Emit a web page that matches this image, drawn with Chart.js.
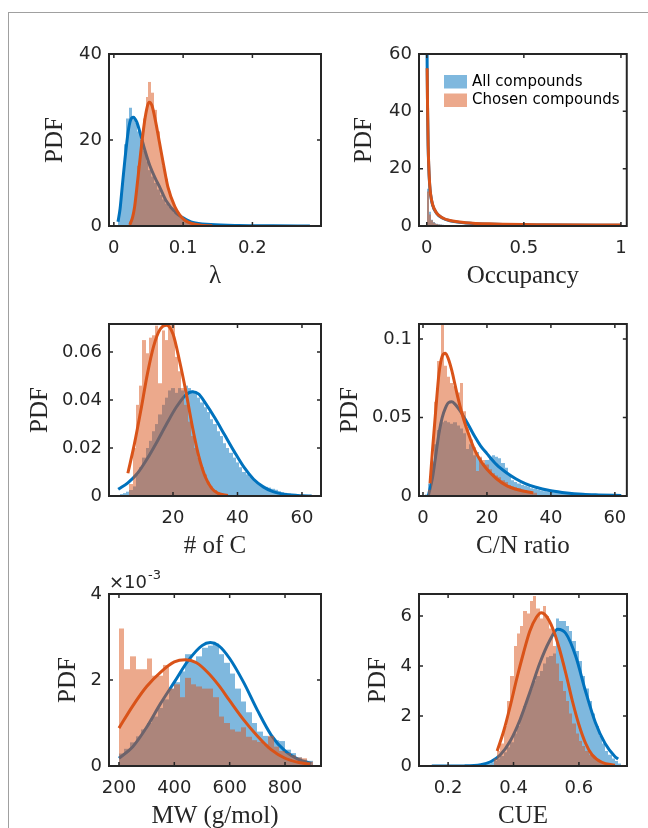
<!DOCTYPE html>
<html>
<head>
<meta charset="utf-8">
<script src="https://cdn.jsdelivr.net/npm/chart.js@4.4.1/dist/chart.umd.min.js"></script>
<style>
  html, body { margin: 0; padding: 0; background: #fff; }
  body { width: 648px; height: 828px; position: relative; overflow: hidden; }
  #frame { position: absolute; left: 8px; top: 12px; width: 700px; height: 900px;
           border-left: 1px solid #a0a0a0; border-top: 1px solid #a0a0a0; }
  canvas { position: absolute; }
</style>
</head>
<body>
<div id="frame"></div>
<canvas id="lamChart"></canvas>
<canvas id="occChart"></canvas>
<canvas id="carbonChart"></canvas>
<canvas id="cnChart"></canvas>
<canvas id="mwChart"></canvas>
<canvas id="cueChart"></canvas>
<script>
'use strict';

// ---- lambda ----
let lamXTicks = [0, 0.1, 0.2];
let lamYTicks = [0, 20, 40];
let lamAllBins = [0.008, 0.012, 0.016, 0.020, 0.024, 0.028, 0.032, 0.036, 0.040, 0.044, 0.048, 0.052, 0.056, 0.060, 0.064, 0.068, 0.072, 0.076, 0.080, 0.084, 0.088, 0.092, 0.096, 0.100, 0.104, 0.108, 0.112, 0.116, 0.120, 0.124, 0.128, 0.132, 0.136, 0.140, 0.144, 0.148];
let lamAllPdf = [3, 10, 19, 25, 27.5, 25.5, 24, 22, 20, 17.5, 15, 13, 11.5, 10, 8.5, 7.2, 6.2, 5.2, 4.4, 3.7, 3.1, 2.6, 2.1, 1.8, 1.5, 1.2, 1.0, 0.8, 0.7, 0.6, 0.5, 0.45, 0.4, 0.35, 0.3, 0.28];
let lamChosenBins = [0.024, 0.028, 0.032, 0.036, 0.040, 0.044, 0.048, 0.052, 0.056, 0.060, 0.064, 0.068, 0.072, 0.076, 0.080, 0.084, 0.088, 0.092, 0.096, 0.100, 0.104, 0.108, 0.112, 0.116, 0.120, 0.124, 0.128, 0.132, 0.136, 0.140];
let lamChosenPdf = [1, 3, 8, 14, 20, 25, 30, 33.5, 31, 27, 22, 18, 14, 11, 8, 6, 4.5, 3.5, 2.5, 1.8, 1.2, 0.9, 0.6, 0.5, 0.4, 0.3, 0.25, 0.2, 0.15, 0.1];
let lamAllFitX = [0.006, 0.009, 0.012, 0.016, 0.021, 0.024, 0.028, 0.033, 0.039, 0.045, 0.052, 0.060, 0.066, 0.075, 0.090, 0.100, 0.114, 0.140, 0.180, 0.230, 0.283];
let lamAllFitY = [1.0, 4.0, 9.0, 15.5, 22.3, 24.6, 25.3, 24.2, 21.0, 17.5, 14.0, 11.0, 9.1, 6.0, 3.0, 1.9, 0.8, 0.35, 0.12, 0.05, 0.02];
let lamChosenFitX = [0.023, 0.027, 0.030, 0.035, 0.042, 0.046, 0.051, 0.055, 0.060, 0.066, 0.072, 0.078, 0.088, 0.095, 0.102, 0.112, 0.125, 0.142];
let lamChosenFitY = [0.3, 2.0, 4.5, 11.5, 21.5, 26.0, 28.8, 28.0, 24.5, 19.3, 14.0, 9.1, 4.5, 2.6, 1.4, 0.6, 0.2, 0.05];

// ---- occupancy ----
let occXTicks = [0, 0.5, 1];
let occYTicks = [0, 20, 40, 60];
let occBins = [0.005, 0.015, 0.025, 0.035, 0.045, 0.055, 0.065, 0.075, 0.085, 0.095];
let occAllPdf = [13, 5, 2.2, 1.4, 1.0, 0.8, 0.6, 0.5, 0.4, 0.35];
let occChosenPdf = [12, 4, 2.0, 1.2, 0.9, 0.7, 0.5, 0.4, 0.35, 0.3];
let occAllFitX = [0.0005, 0.002, 0.004, 0.007, 0.010, 0.015, 0.020, 0.030, 0.050, 0.080, 0.120, 0.200, 0.350, 0.600, 1.000];
let occAllFitY = [70, 56, 41, 28, 21, 14.2, 10.8, 7.3, 4.5, 2.8, 1.8, 1.05, 0.6, 0.35, 0.25];
let occChosenFitX = [0.002, 0.004, 0.007, 0.010, 0.015, 0.020, 0.030, 0.050, 0.080, 0.120, 0.200, 0.350, 0.600, 1.000];
let occChosenFitY = [55, 42, 29, 21.5, 14.5, 11, 7.5, 4.6, 2.9, 1.9, 1.15, 0.7, 0.45, 0.35];

// ---- number of carbons ----
let carbonXTicks = [20, 40, 60];
let carbonYTicks = [0, 0.02, 0.04, 0.06];
let carbonAllBins = [4, 5, 6, 7, 8, 9, 10, 11, 12, 13, 14, 15, 16, 17, 18, 19, 20, 21, 22, 23, 24, 25, 26, 27, 28, 29, 30, 31, 32, 33, 34, 35, 36, 37, 38, 39, 40, 41, 42, 43, 44, 45, 46, 47, 48, 49, 50, 51, 52, 53, 54, 55, 56, 57, 58, 59, 60, 61, 62, 63];
let carbonAllPdf = [0.0008, 0.0012, 0.0018, 0.0025, 0.004, 0.009, 0.012, 0.016, 0.020, 0.023, 0.027, 0.030, 0.034, 0.038, 0.041, 0.044, 0.045, 0.043, 0.045, 0.044, 0.046, 0.045, 0.044, 0.043, 0.041, 0.039, 0.037, 0.035, 0.032, 0.030, 0.027, 0.025, 0.022, 0.020, 0.018, 0.016, 0.014, 0.012, 0.010, 0.009, 0.008, 0.0068, 0.0058, 0.0048, 0.0042, 0.0038, 0.0035, 0.003, 0.0026, 0.002, 0.0016, 0.0013, 0.001, 0.0008, 0.0007, 0.0006, 0.0005, 0.0004, 0.0003, 0.0002];
let carbonChosenBins = [7, 8, 9, 10, 11, 12, 13, 14, 15, 16, 17, 18, 19, 20, 21, 22, 23, 24, 25, 26, 27, 28, 29, 30, 31, 32, 33, 34, 35, 36];
let carbonChosenPdf = [0.005, 0.020, 0.038, 0.046, 0.065, 0.0595, 0.066, 0.067, 0.071, 0.047, 0.069, 0.065, 0.075, 0.075, 0.058, 0.052, 0.045, 0.038, 0.031, 0.025, 0.020, 0.016, 0.012, 0.009, 0.006, 0.004, 0.0025, 0.0015, 0.001, 0.0005];
let carbonAllFitX = [3, 6, 9, 12, 15, 18, 21, 24, 26, 28, 30, 33, 36, 39, 42, 45, 48, 51, 55, 60, 63];
let carbonAllFitY = [0.0028, 0.0055, 0.0095, 0.0155, 0.0225, 0.030, 0.037, 0.0422, 0.0435, 0.0425, 0.0388, 0.0325, 0.0255, 0.0185, 0.0120, 0.0070, 0.0038, 0.0018, 0.0006, 0.0001, 0.00003];
let carbonChosenFitX = [6, 8, 10, 12, 14, 16, 18, 20, 22, 24, 26, 28, 30, 32, 34, 37];
let carbonChosenFitY = [0.0095, 0.0215, 0.0355, 0.0505, 0.0625, 0.0695, 0.0712, 0.0675, 0.0565, 0.0435, 0.0290, 0.0165, 0.0080, 0.0032, 0.0011, 0.0002];

// ---- C/N ratio ----
let cnXTicks = [0, 20, 40, 60];
let cnYTicks = [0, 0.05, 0.1];
let cnAllBins = [1, 2, 3, 4, 5, 6, 7, 8, 9, 10, 11, 12, 13, 14, 15, 16, 17, 18, 19, 20, 21, 22, 23, 24, 25, 26, 27, 28, 29, 30, 31, 32, 33, 34, 35, 36, 37, 38, 39, 40, 41, 42, 43, 44, 45, 46, 47, 48, 49, 50, 51, 52, 53, 54, 55, 56, 57, 58, 59, 60, 61, 62];
let cnAllPdf = [0.001, 0.008, 0.02, 0.033, 0.042, 0.047, 0.048, 0.047, 0.046, 0.047, 0.045, 0.043, 0.040, 0.030, 0.033, 0.026, 0.028, 0.024, 0.021, 0.023, 0.025, 0.026, 0.025, 0.024, 0.021, 0.018, 0.013, 0.010, 0.009, 0.008, 0.007, 0.0065, 0.006, 0.005, 0.0045, 0.004, 0.0035, 0.003, 0.0028, 0.0025, 0.0023, 0.0021, 0.0019, 0.0017, 0.0015, 0.0014, 0.0013, 0.0012, 0.0011, 0.001, 0.0009, 0.0008, 0.0008, 0.0007, 0.0007, 0.0006, 0.0006, 0.0005, 0.0005, 0.0004, 0.0004, 0.0003];
let cnChosenBins = [2, 3, 4, 5, 6, 7, 8, 9, 10, 11, 12, 13, 14, 15, 16, 17, 18, 19, 20, 21, 22, 23, 24, 25, 26, 27, 28, 29, 30, 31, 32, 33, 34, 35];
let cnChosenPdf = [0.004, 0.022, 0.060, 0.086, 0.118, 0.083, 0.076, 0.072, 0.070, 0.066, 0.072, 0.054, 0.043, 0.036, 0.031, 0.016, 0.025, 0.023, 0.020, 0.017, 0.0145, 0.013, 0.012, 0.010, 0.009, 0.007, 0.006, 0.0055, 0.005, 0.004, 0.0035, 0.003, 0.0025, 0.002];
let cnAllFitX = [1.7, 3, 4, 5, 6, 7, 8, 9, 10, 11, 12, 14, 16, 18, 20, 23, 26, 29, 32, 35, 40, 45, 50, 55, 62];
let cnAllFitY = [0.0005, 0.012, 0.026, 0.040, 0.050, 0.056, 0.0595, 0.060, 0.0585, 0.056, 0.053, 0.046, 0.0385, 0.032, 0.027, 0.020, 0.015, 0.011, 0.0079, 0.0057, 0.0033, 0.0019, 0.0011, 0.0007, 0.0003];
let cnChosenFitX = [2.2, 3, 4, 5, 6, 7, 8, 9, 10, 11, 12, 13, 14, 16, 18, 20, 23, 26, 30, 34.5];
let cnChosenFitY = [0.008, 0.030, 0.055, 0.078, 0.089, 0.091, 0.087, 0.080, 0.071, 0.062, 0.054, 0.047, 0.041, 0.030, 0.0225, 0.017, 0.011, 0.0068, 0.0038, 0.002];

// ---- molecular weight ----
let mwXTicks = [200, 400, 600, 800];
let mwYTicks = [0, 0.002, 0.004];
let mwBins = [210, 230, 250, 270, 290, 310, 330, 350, 370, 390, 410, 430, 450, 470, 490, 510, 530, 550, 570, 590, 610, 630, 650, 670, 690, 710, 730, 750, 770, 790, 810, 830, 850, 870, 890];
let mwAllPdf = [0.29e-3, 0.40e-3, 0.55e-3, 0.69e-3, 0.85e-3, 1.0e-3, 1.15e-3, 1.35e-3, 1.55e-3, 1.8e-3, 1.95e-3, 2.2e-3, 2.6e-3, 2.45e-3, 2.55e-3, 2.75e-3, 2.8e-3, 2.85e-3, 2.6e-3, 2.4e-3, 2.15e-3, 1.8e-3, 1.5e-3, 1.25e-3, 1.0e-3, 0.8e-3, 0.7e-3, 0.68e-3, 0.6e-3, 0.58e-3, 0.38e-3, 0.3e-3, 0.2e-3, 0.15e-3, 0.12e-3];
let mwChosenPdf = [3.2e-3, 2.25e-3, 2.55e-3, 2.25e-3, 2.25e-3, 2.5e-3, 2.1e-3, 2.1e-3, 2.35e-3, 1.8e-3, 1.9e-3, 1.6e-3, 2.05e-3, 1.9e-3, 1.85e-3, 1.8e-3, 1.8e-3, 1.6e-3, 1.15e-3, 1.0e-3, 0.85e-3, 0.8e-3, 0.9e-3, 0.68e-3, 0.6e-3, 0.56e-3, 0.5e-3, 0.7e-3, 0.45e-3, 0.35e-3, 0.3e-3, 0.25e-3, 0.2e-3, 0.18e-3, 0.1e-3];
let mwAllFitX = [200, 250, 300, 350, 400, 450, 500, 530, 560, 600, 650, 700, 750, 800, 850, 895];
let mwAllFitY = [0.18e-3, 0.45e-3, 0.90e-3, 1.45e-3, 1.95e-3, 2.45e-3, 2.80e-3, 2.87e-3, 2.80e-3, 2.50e-3, 1.95e-3, 1.30e-3, 0.72e-3, 0.35e-3, 0.15e-3, 0.06e-3];
let mwChosenFitX = [200, 250, 300, 350, 400, 440, 480, 520, 560, 600, 650, 700, 750, 800, 850, 890];
let mwChosenFitY = [0.88e-3, 1.40e-3, 1.85e-3, 2.18e-3, 2.42e-3, 2.47e-3, 2.40e-3, 2.18e-3, 1.88e-3, 1.52e-3, 1.08e-3, 0.70e-3, 0.38e-3, 0.18e-3, 0.08e-3, 0.04e-3];

// ---- CUE ----
let cueXTicks = [0.2, 0.4, 0.6];
let cueYTicks = [0, 2, 4, 6];
let cueAllBins = [0.305, 0.315, 0.325, 0.335, 0.345, 0.355, 0.365, 0.375, 0.385, 0.395, 0.405, 0.415, 0.425, 0.435, 0.445, 0.455, 0.465, 0.475, 0.485, 0.495, 0.505, 0.515, 0.525, 0.535, 0.545, 0.555, 0.565, 0.575, 0.585, 0.595, 0.605, 0.615, 0.625, 0.635, 0.645, 0.655, 0.665, 0.675, 0.685, 0.695, 0.705, 0.715, 0.725];
let cueAllPdf = [0.05, 0.08, 0.1, 0.15, 0.2, 0.3, 0.4, 0.55, 0.75, 0.95, 1.3, 1.6, 2.0, 2.4, 2.8, 3.1, 3.4, 3.6, 3.8, 4.1, 4.35, 4.4, 4.5, 5.9, 5.8, 5.8, 5.6, 5.4, 5.0, 4.6, 4.2, 3.6, 3.1, 2.6, 2.1, 1.6, 1.2, 0.9, 0.6, 0.45, 0.3, 0.2, 0.1];
let cueChosenBins = [0.345, 0.355, 0.365, 0.375, 0.385, 0.395, 0.405, 0.415, 0.425, 0.435, 0.445, 0.455, 0.465, 0.475, 0.485, 0.495, 0.505, 0.515, 0.525, 0.535, 0.545, 0.555, 0.565, 0.575, 0.585, 0.595, 0.605, 0.615, 0.625, 0.635, 0.645, 0.655, 0.665, 0.675, 0.685];
let cueChosenPdf = [0.3, 0.6, 0.9, 1.6, 2.6, 3.6, 4.8, 5.3, 5.6, 6.2, 6.1, 6.6, 6.8, 6.3, 5.9, 6.4, 6.0, 5.5, 4.8, 4.1, 3.4, 3.0, 2.6, 2.1, 1.7, 1.3, 1.0, 0.8, 0.6, 0.45, 0.35, 0.25, 0.18, 0.12, 0.08];
let cueAllFitX = [0.15, 0.25, 0.30, 0.33, 0.36, 0.39, 0.42, 0.45, 0.48, 0.51, 0.535, 0.56, 0.59, 0.62, 0.65, 0.68, 0.71, 0.72];
let cueAllFitY = [0.0, 0.005, 0.05, 0.17, 0.45, 1.0, 1.85, 2.95, 4.1, 5.0, 5.47, 5.3, 4.4, 3.0, 1.75, 0.9, 0.38, 0.28];
let cueChosenFitX = [0.35, 0.37, 0.39, 0.41, 0.43, 0.45, 0.47, 0.485, 0.50, 0.52, 0.54, 0.56, 0.58, 0.60, 0.62, 0.64, 0.67, 0.71];
let cueChosenFitY = [0.6, 1.4, 2.4, 3.5, 4.5, 5.4, 5.95, 6.13, 6.0, 5.5, 4.7, 3.7, 2.6, 1.65, 0.92, 0.45, 0.15, 0.03];

let legendNames = ['All compounds', 'Chosen compounds'];

const axisColor = '#262626';
const blueLine = '#0072BD';
const orangeLine = '#D95319';
const blueFill = 'rgba(0, 114, 189, 0.5)';
const orangeFill = 'rgba(217, 83, 25, 0.5)';
const tickFont = { family: 'DejaVu Sans', size: 18 };
const titleFont = { family: 'Liberation Serif', size: 25 };

const padL = 100, padT = 30, padR = 12, padB = 70;

function pairs(xs, ys) {
  return xs.map((x, i) => ({ x: x, y: ys[i] }));
}

function fmt(v) {
  return String(Number(v.toPrecision(6)));
}

// snap bar edges to whole pixels so neighbouring bins do not leave seams
const snapBars = {
  id: 'snapBars',
  beforeDatasetsDraw(chart) {
    chart.getSortedVisibleDatasetMetas().forEach(meta => {
      if (meta.type !== 'bar') return;
      meta.data.forEach(el => {
        const l = Math.round(el.x - el.width / 2);
        const r = Math.round(el.x + el.width / 2);
        el.x = (l + r) / 2;
        el.width = r - l;
        el.inflateAmount = 0;
      });
    });
  }
};

// axes box with inward ticks, drawn over the data like MATLAB does
const boxPlugin = {
  id: 'matlabBox',
  afterDatasetsDraw(chart) {
    const { ctx, chartArea: a, scales } = chart;
    ctx.save();
    ctx.strokeStyle = axisColor;
    ctx.lineWidth = 1.5;
    ctx.beginPath();
    scales.x.ticks.forEach(t => {
      const px = scales.x.getPixelForValue(t.value);
      ctx.moveTo(px, a.bottom); ctx.lineTo(px, a.bottom - 4);
      ctx.moveTo(px, a.top); ctx.lineTo(px, a.top + 4);
    });
    scales.y.ticks.forEach(t => {
      const py = scales.y.getPixelForValue(t.value);
      ctx.moveTo(a.left, py); ctx.lineTo(a.left + 4, py);
      ctx.moveTo(a.right, py); ctx.lineTo(a.right - 4, py);
    });
    ctx.stroke();
    ctx.lineWidth = 2;
    ctx.strokeRect(a.left, a.top, a.right - a.left, a.bottom - a.top);
    ctx.restore();
  }
};

const legendPlugin = {
  id: 'innerLegend',
  afterDraw(chart) {
    const { ctx, chartArea: a } = chart;
    const fills = [blueFill, orangeFill];
    ctx.save();
    ctx.font = '15px "DejaVu Sans"';
    ctx.textBaseline = 'middle';
    legendNames.forEach((name, i) => {
      const top = a.top + 21 + i * 18.5;
      ctx.fillStyle = fills[i];
      ctx.fillRect(a.left + 25, top, 23, 13.5);
      ctx.fillStyle = '#000';
      ctx.fillText(name, a.left + 53, top + 7);
    });
    ctx.restore();
  }
};

const exponentPlugin = {
  id: 'exponent',
  afterDraw(chart) {
    const { ctx, chartArea: a } = chart;
    ctx.save();
    ctx.fillStyle = axisColor;
    ctx.font = '18px "DejaVu Sans"';
    ctx.fillText('\u00d710', a.left, a.top - 6);
    const w = ctx.measureText('\u00d710').width;
    ctx.font = '13px "DejaVu Sans"';
    ctx.fillText('-3', a.left + 1 + w, a.top - 15);
    ctx.restore();
  }
};

function histSet(bins, pdf, color, order) {
  return {
    type: 'bar', data: pairs(bins, pdf), backgroundColor: color, borderWidth: 0,
    inflateAmount: 0, grouped: false, barPercentage: 1, categoryPercentage: 1,
    order: order, clip: 0
  };
}

function fitSet(xs, ys, color, order) {
  return {
    type: 'line', data: pairs(xs, ys), borderColor: color, borderWidth: 3,
    pointRadius: 0, fill: false, cubicInterpolationMode: 'monotone', order: order, clip: 0
  };
}

function makePanel(p) {
  const canvas = document.getElementById(p.id);
  canvas.width = padL + p.box.w + padR;
  canvas.height = padT + p.box.h + padB;
  canvas.style.left = (p.box.x - padL) + 'px';
  canvas.style.top = (p.box.y - padT) + 'px';

  new Chart(canvas, {
    type: 'bar',
    data: {
      datasets: [
        histSet(p.allBins, p.allPdf, blueFill, 4),
        fitSet(p.allFitX, p.allFitY, blueLine, 3),
        histSet(p.chosenBins, p.chosenPdf, orangeFill, 2),
        fitSet(p.chosenFitX, p.chosenFitY, orangeLine, 1)
      ]
    },
    options: {
      responsive: false,
      animation: false,
      devicePixelRatio: 1,
      layout: { padding: { top: padT, right: padR, left: 0, bottom: 0 } },
      plugins: { legend: { display: false }, tooltip: { enabled: false } },
      scales: {
        x: {
          type: 'linear', min: p.xMin, max: p.xMax, offset: false,
          grid: { display: false, drawTicks: false }, border: { display: false },
          afterBuildTicks(s) { s.ticks = p.xTicks.map(v => ({ value: v })); },
          ticks: { autoSkip: false, maxRotation: 0,
                   font: tickFont, color: axisColor, padding: 12, callback: v => fmt(v) },
          title: { display: true, text: p.xTitle, font: titleFont, color: axisColor,
                   padding: { top: 0, bottom: 4.5 } },
          afterFit(s) { s.height = padB; }
        },
        y: {
          type: 'linear', min: 0, max: p.yMax,
          grid: { display: false, drawTicks: false }, border: { display: false },
          afterBuildTicks(s) { s.ticks = p.yTicks.map(v => ({ value: v })); },
          ticks: { autoSkip: false,
                   font: tickFont, color: axisColor, padding: 7,
                   callback: p.yFormat || (v => fmt(v)) },
          title: { display: true, text: 'PDF', font: titleFont, color: axisColor,
                   padding: { top: padL - p.titleGap - 15, bottom: 0 } },
          afterFit(s) { s.width = padL; }
        }
      }
    },
    plugins: [snapBars, boxPlugin].concat(p.extra || [])
  });
}

makePanel({
  id: 'lamChart', box: { x: 109, y: 54, w: 212, h: 172 },
  xMin: -0.007, xMax: 0.299, yMax: 40, xTicks: lamXTicks, yTicks: lamYTicks,
  xTitle: '\u03bb', titleGap: 54,
  allBins: lamAllBins, allPdf: lamAllPdf, chosenBins: lamChosenBins, chosenPdf: lamChosenPdf,
  allFitX: lamAllFitX, allFitY: lamAllFitY, chosenFitX: lamChosenFitX, chosenFitY: lamChosenFitY
});

makePanel({
  id: 'occChart', box: { x: 419, y: 54, w: 208, h: 172 },
  xMin: -0.04, xMax: 1.03, yMax: 60, xTicks: occXTicks, yTicks: occYTicks,
  xTitle: 'Occupancy', titleGap: 55,
  allBins: occBins, allPdf: occAllPdf, chosenBins: occBins, chosenPdf: occChosenPdf,
  allFitX: occAllFitX, allFitY: occAllFitY, chosenFitX: occChosenFitX, chosenFitY: occChosenFitY,
  extra: [legendPlugin]
});

makePanel({
  id: 'carbonChart', box: { x: 109, y: 324, w: 212, h: 172 },
  xMin: 0.15, xMax: 65.9, yMax: 0.0717, xTicks: carbonXTicks, yTicks: carbonYTicks,
  xTitle: '# of C', titleGap: 69,
  allBins: carbonAllBins, allPdf: carbonAllPdf, chosenBins: carbonChosenBins, chosenPdf: carbonChosenPdf,
  allFitX: carbonAllFitX, allFitY: carbonAllFitY, chosenFitX: carbonChosenFitX, chosenFitY: carbonChosenFitY
});

makePanel({
  id: 'cnChart', box: { x: 419, y: 324, w: 208, h: 172 },
  xMin: -1.25, xMax: 63.75, yMax: 0.1096, xTicks: cnXTicks, yTicks: cnYTicks,
  xTitle: 'C/N ratio', titleGap: 69,
  allBins: cnAllBins, allPdf: cnAllPdf, chosenBins: cnChosenBins, chosenPdf: cnChosenPdf,
  allFitX: cnAllFitX, allFitY: cnAllFitY, chosenFitX: cnChosenFitX, chosenFitY: cnChosenFitY
});

makePanel({
  id: 'mwChart', box: { x: 109, y: 594, w: 212, h: 172 },
  xMin: 164, xMax: 930, yMax: 0.004, xTicks: mwXTicks, yTicks: mwYTicks,
  xTitle: 'MW (g/mol)', titleGap: 41,
  yFormat: v => String(Math.round(v * 1000)),
  allBins: mwBins, allPdf: mwAllPdf, chosenBins: mwBins, chosenPdf: mwChosenPdf,
  allFitX: mwAllFitX, allFitY: mwAllFitY, chosenFitX: mwChosenFitX, chosenFitY: mwChosenFitY,
  extra: [exponentPlugin]
});

makePanel({
  id: 'cueChart', box: { x: 419, y: 594, w: 208, h: 172 },
  xMin: 0.111, xMax: 0.747, yMax: 6.88, xTicks: cueXTicks, yTicks: cueYTicks,
  xTitle: 'CUE', titleGap: 41,
  allBins: cueAllBins, allPdf: cueAllPdf, chosenBins: cueChosenBins, chosenPdf: cueChosenPdf,
  allFitX: cueAllFitX, allFitY: cueAllFitY, chosenFitX: cueChosenFitX, chosenFitY: cueChosenFitY
});
</script>
</body>
</html>
